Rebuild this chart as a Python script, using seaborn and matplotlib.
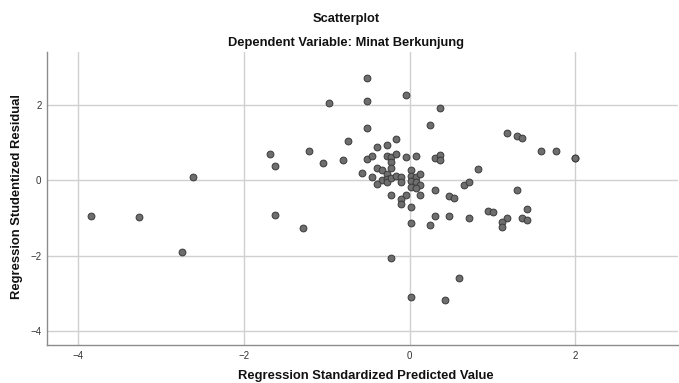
import matplotlib
matplotlib.use("Agg")
import matplotlib.pyplot as plt
import seaborn as sns
import pandas as pd

pred = [-3.85, -3.27, -2.62, -2.75, -1.69, -1.63, -1.22, -1.63, -1.29, -1.05,
        -0.81, -0.98, -0.75, -0.52, -0.52, -0.52, -0.05, 0.36, 0.24, -0.17,
        -0.40, -0.28, -0.51, -0.46, -0.28, -0.23, -0.17, -0.23, -0.23, -0.05,
        0.07, 0.30, 0.36, 0.36, -0.58, -0.46, -0.40, -0.34, -0.28, -0.34,
        -0.28, -0.40, -0.28, -0.23, -0.17, -0.11, -0.11, 0.01, 0.01, 0.07,
        0.13, 0.01, 0.07, 0.13, 0.01, 0.07, -0.23, -0.05, -0.11, -0.11,
        0.13, 0.01, 0.30, 0.48, 0.54, 0.65, 0.71, 0.83, 0.30, 0.48,
        0.71, 0.94, 1.00, 0.01, 0.24, -0.23, 0.59, 0.01, 0.42, 1.18,
        1.29, 1.355, 1.59, 1.765, 2.00, 2.00, 1.30, 1.42, 1.18, 1.12,
        1.12, 1.355, 1.42]
resid = [-0.95, -0.98, 0.07, -1.89, 0.70, 0.37, 0.76, -0.92, -1.27, 0.44,
         0.53, 2.03, 1.03, 2.69, 2.09, 1.39, 2.26, 1.92, 1.46, 1.10,
         0.88, 0.92, 0.57, 0.65, 0.64, 0.62, 0.70, 0.47, 0.32, 0.60,
         0.635, 0.58, 0.67, 0.54, 0.20, 0.095, 0.32, 0.26, 0.17, 0.00,
         0.04, -0.11, -0.06, 0.06, 0.12, 0.08, -0.06, 0.27, 0.12, 0.08,
         0.17, -0.03, -0.06, -0.12, -0.17, -0.21, -0.39, -0.39, -0.50, -0.63,
         -0.39, -0.71, -0.26, -0.41, -0.46, -0.13, -0.05, 0.29, -0.96, -0.96,
         -1.01, -0.81, -0.85, -1.13, -1.18, -2.06, -2.60, -3.08, -3.16, 1.26,
         1.16, 1.11, 0.775, 0.775, 0.58, 0.58, -0.25, -0.77, -1.00, -1.095,
         -1.23, -1.00, -1.05]

x_ticks = [-4, -2, 0, 2]
y_ticks = [-4, -2, 0, 2]

title = "Scatterplot"
subtitle = "Dependent Variable: Minat Berkunjung"
x_label = "Regression Standardized Predicted Value"
y_label = "Regression Studentized Residual"

df = pd.DataFrame({"pred": pred, "resid": resid})

sns.set_style("white")
plt.rcParams["font.family"] = ["Liberation Sans", "DejaVu Sans"]

W, H = 679, 383
fig = plt.figure(figsize=(W / 100, H / 100), dpi=100)
ax = fig.add_axes([47 / W, 1 - 345.3 / H, 1 - 47 / W - 0.002, (345.3 - 52) / H])

ax.set_xlim(-4.38, 3.235)
ax.set_ylim(-4.37, 3.39)
ax.set_xticks(x_ticks)
ax.set_yticks(y_ticks)
ax.grid(True, color="#d0d0d0", linewidth=1.0)
ax.set_axisbelow(True)

sns.scatterplot(data=df, x="pred", y="resid", ax=ax, s=24, color="#6e6e6e",
                edgecolor="#3a3a3a", linewidth=0.7, zorder=3)

for side in ["top", "right"]:
    ax.spines[side].set_visible(False)
for side in ["left", "bottom"]:
    ax.spines[side].set_color("#8c8c8c")
    ax.spines[side].set_linewidth(1.0)

ax.tick_params(axis="both", length=0, labelsize=7, colors="#333333", pad=4)
ax.set_xlabel("")
ax.set_ylabel("")

fig.text(366 / W, 1 - 379.5 / H, x_label, ha="center", va="baseline",
         fontsize=9.4, fontweight="bold", color="#111111")
fig.text(17 / W, 1 - 197 / H, y_label, ha="center", va="center", rotation=90,
         fontsize=9.4, fontweight="bold", color="#111111")

fig.text(346.5 / W, 1 - 19 / H, title, ha="center", va="center",
         fontsize=9.3, fontweight="bold", color="#111111")
fig.text(346.5 / W, 1 - 43 / H, subtitle, ha="center", va="center",
         fontsize=9.3, fontweight="bold", color="#111111")

fig.savefig("out.png", dpi=100)
